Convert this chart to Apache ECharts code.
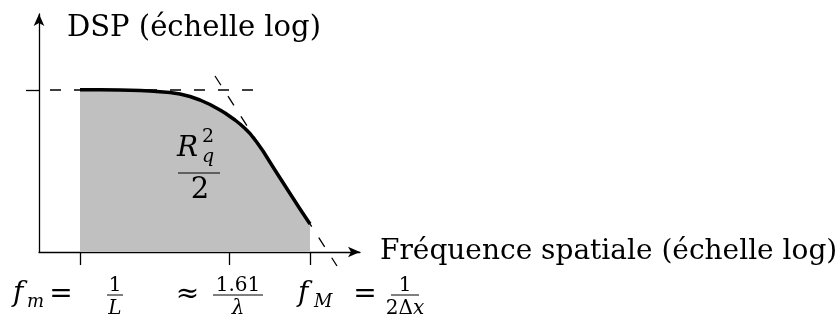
<!DOCTYPE html>
<html><head><meta charset="utf-8">
<script src="https://cdn.jsdelivr.net/npm/echarts@6/dist/echarts.min.js"></script>
<style>html,body{margin:0;padding:0;background:#fff}#c{width:837px;height:326px}</style>
</head><body><div id="c"></div>
<script>
// Schematic PSD: log-frequency (arbitrary units) vs log-PSD (arbitrary units)
const curveX = [41, 61, 81, 101, 111, 121, 131, 141, 151, 161, 171, 181, 186, 191, 196, 201, 206, 211, 218, 224, 234, 242, 251, 261, 271];
const curveY = [162.3, 162.2, 162, 161.5, 161, 160.3, 159.5, 158, 155.5, 152, 147.5, 142, 139, 135.5, 132, 128, 123.5, 118.5, 109.5, 101, 85, 72.5, 58.5, 43, 28];
const plateauX = [-13, 216];
const plateauY = [162, 162];
const asymptoteX = [176, 298];
const asymptoteY = [176, -14];
const tickValues = [41, 190, 271];
const yTickValues = [162];
const tickLabels = [
  { lhs: 'f', sub: 'm', rel: '=', num: '1', den: '{i|L}' },
  { lhs: '',  sub: '',  rel: '≈', num: '1.61', den: '{i|λ}' },
  { lhs: 'f', sub: 'M', rel: '=', num: '1', den: '{u|2Δ}{i|x}' }
];
const xTitle = 'Fréquence spatiale (échelle log)';
const yTitle = 'DSP (échelle log)';
const areaLabel = { base: 'R', sup: '2', sub: 'q', den: '2' };

const SERIF = 'DejaVu Serif';
const pts = (xs, ys) => xs.map((x, i) => [x, ys[i]]);

const chart = echarts.init(document.getElementById('c'), null, { renderer: 'canvas' });
const option = {
  animation: false,
  backgroundColor: '#fff',
  grid: { left: 39, top: 14, width: 321, height: 238, containLabel: false, outerBoundsMode: 'none' },
  xAxis: {
    type: 'value', min: 0, max: 321,
    name: xTitle, nameLocation: 'end', nameGap: 20,
    nameTextStyle: { fontFamily: SERIF, fontSize: 28, color: '#000', align: 'left', verticalAlign: 'middle', padding: [0, 0, 28, 0] },
    axisLine: { show: true, onZero: false, symbol: ['none', 'arrow'], symbolSize: [8, 12], lineStyle: { color: '#000', width: 1.3 } },
    axisTick: { show: true, customValues: tickValues, inside: false, length: 13, lineStyle: { color: '#000', width: 1.3 } },
    axisLabel: { show: false },
    splitLine: { show: false }
  },
  yAxis: {
    type: 'value', min: 0, max: 238,
    name: yTitle, nameLocation: 'end', nameGap: -14,
    nameTextStyle: { fontFamily: SERIF, fontSize: 29, color: '#000', align: 'left', verticalAlign: 'middle', padding: [0, 0, 0, 28] },
    axisLine: { show: true, onZero: false, symbol: ['none', 'arrow'], symbolSize: [8, 12], lineStyle: { color: '#000', width: 1.3 } },
    axisTick: { show: true, customValues: yTickValues, inside: false, length: 13, lineStyle: { color: '#000', width: 1.3 } },
    axisLabel: { show: false },
    splitLine: { show: false }
  },
  series: [
    { type: 'line', data: pts(curveX, curveY), showSymbol: false, silent: true,
      lineStyle: { width: 0 }, areaStyle: { color: '#c0c0c0', opacity: 1, origin: 'start' }, z: 1 },
    { type: 'line', data: pts(plateauX, plateauY), showSymbol: false, silent: true, clip: false,
      lineStyle: { color: '#000', width: 1.3, type: [11, 13] }, z: 2 },
    { type: 'line', data: pts(asymptoteX, asymptoteY), showSymbol: false, silent: true, clip: false,
      lineStyle: { color: '#000', width: 1.3, type: [11, 13] }, z: 2 },
    { type: 'line', data: pts(curveX, curveY), showSymbol: false, silent: true,
      lineStyle: { color: '#000', width: 3.5, join: 'round' }, z: 3 }
  ]
};
chart.setOption(option);

// ---- math-like labels, placed through the axis scales ----
const els = [];
function text(x, y, s, size, italic, align, rich) {
  const st = { text: s, x: x, y: y, fill: '#000', fontFamily: SERIF, fontSize: size,
    fontStyle: italic ? 'italic' : 'normal', align: align || 'left', verticalAlign: 'middle' };
  if (rich) st.rich = {
    i: { fontFamily: SERIF, fontSize: size, fontStyle: 'italic', fill: '#000' },
    u: { fontFamily: SERIF, fontSize: size, fontStyle: 'normal', fill: '#000' }
  };
  els.push({ type: 'text', silent: true, z: 100, style: st });
}
function bar(x1, x2, y) {
  els.push({ type: 'line', silent: true, z: 100, shape: { x1: x1, y1: y, x2: x2, y2: y }, style: { stroke: '#000', lineWidth: 1 } });
}
// layout (style): offsets relative to tick pixel and axis line
const tickLayout = [
  { lhs: -67, sub: -53, rel: -19, frac: 35, half: 8 },
  { lhs: 0,   sub: 0,   rel: -41.5, frac: 9, half: 25 },
  { lhs: -12, sub: 4,   rel: 55, frac: 95, half: 14 }
];
const axisPx = chart.convertToPixel({ gridIndex: 0 }, [0, 0])[1];
tickValues.forEach((v, i) => {
  const px = chart.convertToPixel({ xAxisIndex: 0 }, v);
  const L = tickLabels[i], P = tickLayout[i];
  if (L.lhs) text(px + P.lhs, axisPx + 42, L.lhs, 28, true, 'left');
  if (L.sub) text(px + P.sub, axisPx + 50, L.sub, 18, true, 'left');
  text(px + P.rel, axisPx + 43, L.rel, 28, false, 'center');
  text(px + P.frac, axisPx + 34, L.num, 20, false, 'center');
  bar(px + P.frac - P.half, px + P.frac + P.half, axisPx + 43);
  text(px + P.frac, axisPx + 57, L.den, 20, false, 'center', true);
});
// area label R_q^2 / 2
const c = chart.convertToPixel({ gridIndex: 0 }, [160, 79]);
text(c[0] - 22, c[1] - 24, areaLabel.base, 28, true, 'left');
text(c[0] + 3, c[1] - 36, areaLabel.sup, 19, false, 'left');
text(c[0] + 3, c[1] - 16, areaLabel.sub, 19, true, 'left');
bar(c[0] - 21, c[0] + 21, c[1]);
text(c[0] + 1, c[1] + 17, areaLabel.den, 29, false, 'center');
chart.setOption({ graphic: els });
</script>
</body></html>
